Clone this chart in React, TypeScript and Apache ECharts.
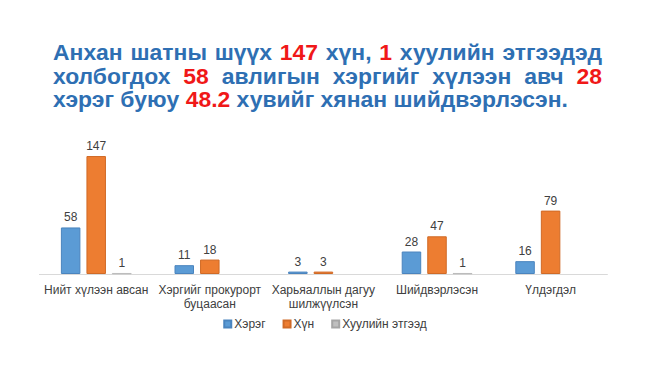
import React, { useEffect, useRef } from "react";
import * as echarts from "echarts";

const categories = [
  "Нийт хүлээн авсан",
  "Хэргийг прокурорт\nбуцаасан",
  "Харьяаллын дагуу\nшилжүүлсэн",
  "Шийдвэрлэсэн",
  "Үлдэгдэл",
];
const seriesNames = ["Хэрэг", "Хүн", "Хуулийн этгээд"];
const caseCounts: (number | null)[] = [58, 11, 3, 28, 16];
const personCounts: (number | null)[] = [147, 18, 3, 47, 79];
const entityCounts: (number | null)[] = [1, null, null, 1, null];

// title words: [text, isHighlight]
const titleLines: [string, boolean][][] = [
  [["Анхан", false], ["шатны", false], ["шүүх", false], ["147", true], ["хүн,", false], ["1", true], ["хуулийн", false], ["этгээдэд", false]],
  [["холбогдох", false], ["58", true], ["авлигын", false], ["хэргийг", false], ["хүлээн", false], ["авч", false], ["28", true]],
  [["хэрэг", false], ["буюу", false], ["48.2", true], ["хувийг", false], ["хянан", false], ["шийдвэрлэсэн.", false]],
];

const FONT = "'Liberation Sans', Arial, sans-serif";
const BLUE_TITLE = "#2E6FB3";
const RED = "#F01818";

function buildTitle(): any[] {
  const canvas = document.createElement("canvas");
  const ctx = canvas.getContext("2d")!;
  const left = 53;
  const rights = [602, 602, 568];
  const baselines = [64, 87.5, 111];
  const fs = 22;
  ctx.font = `bold ${fs}px ${FONT}`;
  const lastText = titleLines[2].map(([w]) => w).join(" ");
  const nat = ctx.measureText(lastText).width;
  let stretch = (rights[2] - left) / nat;
  stretch = Math.max(1, Math.min(1.22, stretch));
  const els: any[] = [];
  titleLines.forEach((words, li) => {
    const widths = words.map(([w]) => ctx.measureText(w).width * stretch);
    const total = widths.reduce((a, b) => a + b, 0);
    const gap = (rights[li] - left - total) / (words.length - 1);
    let x = left;
    words.forEach(([w, hi], wi) => {
      els.push({
        type: "text",
        x,
        y: baselines[li],
        scaleX: stretch,
        style: {
          text: w,
          font: `bold ${fs}px ${FONT}`,
          fill: hi ? RED : BLUE_TITLE,
          textAlign: "left",
          textVerticalAlign: "bottom",
        },
      });
      x += widths[wi] + gap;
    });
  });
  return els;
}

export default function App() {
  const ref = useRef<HTMLDivElement>(null);
  useEffect(() => {
    if (!ref.current) return;
    const chart = echarts.init(ref.current, null, { renderer: "svg" });
    const labelStyle = {
      show: true,
      position: "top" as const,
      color: "#404040",
      fontSize: 12,
      fontFamily: FONT,
      distance: 4,
    };
    chart.setOption({
      animation: false,
      backgroundColor: "#FFFFFF",
      textStyle: { fontFamily: FONT },
      graphic: buildTitle(),
      legend: {
        data: seriesNames,
        bottom: 30,
        left: "center",
        itemWidth: 7,
        itemHeight: 7,
        itemGap: 17,
        icon: "rect",
        textStyle: { color: "#404040", fontSize: 12, fontFamily: FONT, padding: [0, 0, 0, -2] },
      },
      grid: { left: 39.4, right: 42.6, top: 145.6, bottom: 91, containLabel: false },
      xAxis: {
        type: "category",
        data: categories,
        axisLine: { lineStyle: { color: "#D9D9D9", width: 1 } },
        axisTick: { show: false },
        axisLabel: {
          interval: 0,
          color: "#404040",
          fontSize: 12,
          fontFamily: FONT,
          lineHeight: 14,
          margin: 9,
        },
      },
      yAxis: {
        type: "value",
        min: 0,
        max: 160,
        show: false,
        splitLine: { show: false },
      },
      series: [
        {
          name: seriesNames[0],
          type: "bar",
          data: caseCounts,
          barWidth: 19.5,
          barGap: "31%",
          itemStyle: { color: "#5B9BD5", borderColor: "#4A84BE", borderWidth: 1 },
          label: labelStyle,
        },
        {
          name: seriesNames[1],
          type: "bar",
          data: personCounts,
          barWidth: 19.5,
          barGap: "31%",
          itemStyle: { color: "#ED7D31", borderColor: "#D06A26", borderWidth: 1 },
          label: labelStyle,
        },
        {
          name: seriesNames[2],
          type: "bar",
          data: entityCounts,
          barWidth: 19.5,
          barGap: "31%",
          itemStyle: { color: "#BFBFBF", borderColor: "#A5A5A5", borderWidth: 0.5 },
          label: labelStyle,
        },
      ],
    });
    return () => chart.dispose();
  }, []);
  return (
    <div
      ref={ref}
      style={{ position: "fixed", left: 0, top: 0, width: 650, height: 365 }}
    />
  );
}
